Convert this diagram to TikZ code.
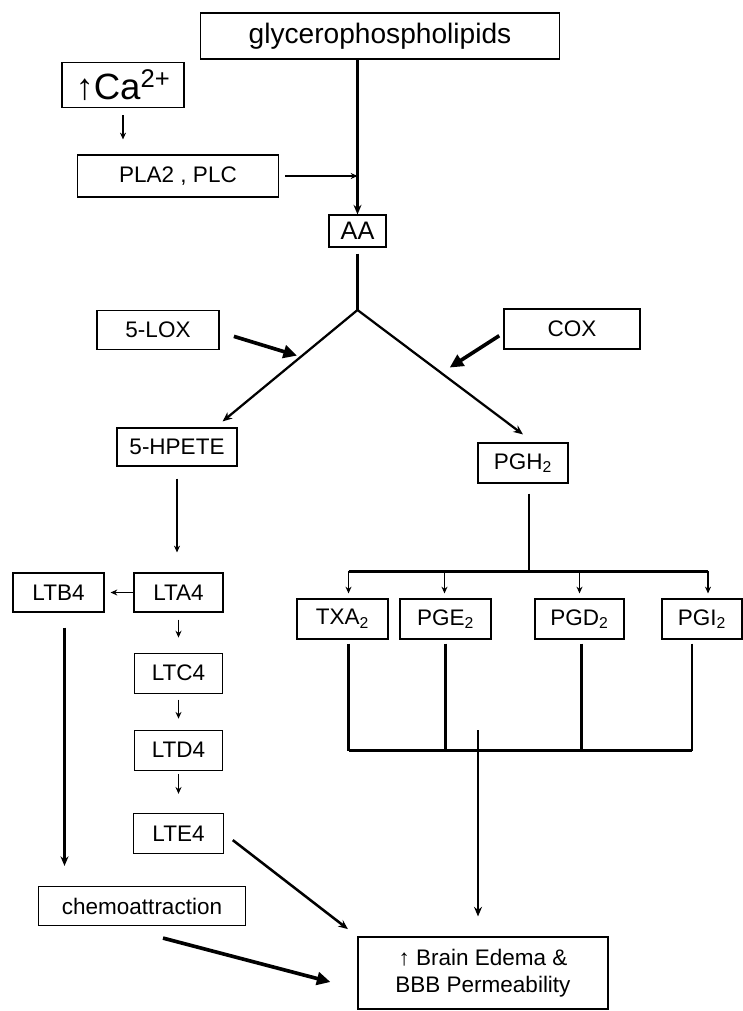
\documentclass[tikz,border=0pt]{standalone}
\usepackage{fontspec}
\setmainfont{Liberation Sans}
\usetikzlibrary{positioning,arrows.meta,calc}
\newlength\pxu
\setlength\pxu{0.025cm}

\begin{document}
\begin{tikzpicture}[x=0.025cm, y=-0.025cm,
  font=\fontsize{16}{19}\selectfont,
  every node/.style={align=center},
  box/.style={draw, line width=0.8pt, inner sep=1pt, minimum height=40\pxu},
  big/.style={box, font=\fontsize{20}{24}\selectfont},
  arr/.style={-{Stealth[length=2.4mm,width=2mm]}, line width=1.6pt},
  tick/.style={-{Stealth[length=1.7mm,width=1.5mm]}, line width=1.2pt},
  fat/.style={-{Triangle[length=3.4mm,width=3.2mm]}, line width=2.6pt},
  bar/.style={line width=2.4pt}]

\useasboundingbox (0,0) rectangle (742,1011);

% ---------------- release of AA ----------------
\node[big, minimum width=359\pxu, minimum height=46\pxu] (glyc) at (380,36) {glycerophospholipids};
\node[box, minimum width=122\pxu, minimum height=45\pxu, font=\fontsize{26}{30}\selectfont] (ca) at (123,85) {↑Ca\textsuperscript{2+}};
\node[box, minimum width=201\pxu, minimum height=42\pxu] (pla) at (178,176) {PLA2 , PLC};
\node[box, minimum width=57\pxu, minimum height=32\pxu, font=\fontsize{18}{20}\selectfont] (aa) at (357.5,231) {AA};

% ---------------- enzymes and first products ----------------
\node[box, minimum width=122\pxu, minimum height=39\pxu] (lox) at (158,330) {5-LOX};
\node[box, minimum width=136\pxu] (cox) at (572,329) {COX};
\node[box, minimum width=120\pxu, minimum height=38\pxu] (hpete) at (177,447) {5-HPETE};
\node[box, minimum width=90\pxu] (pgh) at (523,463) {PGH\textsubscript{2}};

% ---------------- leukotrienes ----------------
\node[box, minimum width=89\pxu, minimum height=39\pxu] (lta) at (178.5,592.5) {LTA4};
\node[box, minimum width=91\pxu, minimum height=39\pxu] (ltb) at (58.5,592.5) {LTB4};
\node[box, minimum width=88\pxu, below=40\pxu of lta] (ltc) {LTC4};
\node[box, minimum width=88\pxu, below=36\pxu of ltc] (ltd) {LTD4};
\node[box, minimum width=90\pxu, below=42\pxu of ltd] (lte) {LTE4};

% ---------------- prostanoids ----------------
\node[box, minimum width=91\pxu] (txa) at (342.5,619) {TXA\textsubscript{2}};
\node[box, minimum width=91\pxu] (pge) at (445.5,619) {PGE\textsubscript{2}};
\node[box, minimum width=89\pxu] (pgd) at (579.5,619) {PGD\textsubscript{2}};
\node[box, minimum width=80\pxu] (pgi) at (702,619) {PGI\textsubscript{2}};

% ---------------- outcome ----------------
\node[box, minimum width=207\pxu, minimum height=39\pxu] (chemo) at (142,906) {chemoattraction};
\node[box, minimum width=250\pxu, minimum height=72\pxu] (edema) at (483,973) {↑ Brain Edema \&\\BBB Permeability};

% ---------------- arrows ----------------
\coordinate (fork) at (357.5,310);
\coordinate (hpin) at ([xshift=-15\pxu,yshift=6\pxu]hpete.north east);
\coordinate (pgin) at ([yshift=8\pxu]pgh.north);
\coordinate (loxhit) at ($(fork)!0.42!(hpin)$);
\coordinate (coxhit) at ($(fork)!0.506!(pgin)$);

\draw[arr] (aa.north |- glyc.south) -- (aa.north);
\draw[tick, shorten <=7\pxu, shorten >=15\pxu] (ca.south) -- (ca.south |- pla.north);
\draw[tick, shorten <=6\pxu] (pla.east) -- (pla.east -| aa.north);
\draw[line width=1.6pt, shorten <=6\pxu] (aa.south) -- (fork);
\draw[arr] (fork) -- (hpin);
\draw[arr] (fork) -- (pgin);
\draw[fat, shorten <=15\pxu, shorten >=4\pxu] ([yshift=-2\pxu]lox.east) -- (loxhit);
\draw[fat, shorten <=5\pxu, shorten >=10\pxu] ([yshift=-4\pxu]cox.west) -- (coxhit);

% leukotriene chain
\draw[tick, shorten <=12\pxu, shorten >=20\pxu] (hpete.south) -- (hpete.south |- lta.north);
\draw[tick, shorten >=6\pxu] (lta.west) -- (ltb.east);
\draw[tick, shorten <=7\pxu, shorten >=15\pxu] (lta.south) -- (ltc.north);
\draw[tick, shorten <=6\pxu, shorten >=11\pxu] (ltc.south) -- (ltd.north);
\draw[tick, shorten <=3\pxu, shorten >=19\pxu] (ltd.south) -- (lte.north);
\coordinate (ltbout) at ([xshift=6\pxu]ltb.south);
\draw[arr, shorten <=15\pxu, shorten >=20\pxu] (ltbout) -- (ltbout |- chemo.north);

% prostanoid fan
\coordinate (split) at ($(pgh.south)+(6,89)$);
\draw[line width=1.6pt, shorten <=10\pxu] ([xshift=6\pxu]pgh.south) -- (split);
\draw[bar] ($(txa.north)+(6,-27)$) -- ($(pgi.north)+(6,-27)$);
\foreach \n/\dx in {txa/6, pge/-1, pgd/0, pgi/6}
  \draw[tick] ($(\n.north)+(\dx,-27)$) -- ($(\n.north)+(\dx,-5)$);
\coordinate (merge) at (478,730);
\foreach \n/\dx in {txa/6, pge/0, pgd/2, pgi/-10}
  \draw[line width=1.6pt] ($(\n.south)+(\dx,4)$) -- ($(\n.south)+(\dx,111)$);
\draw[bar] ($(txa.south)+(6,111)$) -- ($(pgi.south)+(-10,111)$);
\draw[arr, shorten >=20\pxu] (merge) -- (merge |- edema.north);

% into the edema box
\draw[arr, line width=1.8pt, shorten <=11\pxu, shorten >=12\pxu] (lte.east) -- (edema.north west);
\draw[fat] ([xshift=21\pxu,yshift=-12\pxu]chemo.south) -- ([xshift=-27\pxu,yshift=-9\pxu]edema.west);
\end{tikzpicture}
\end{document}
